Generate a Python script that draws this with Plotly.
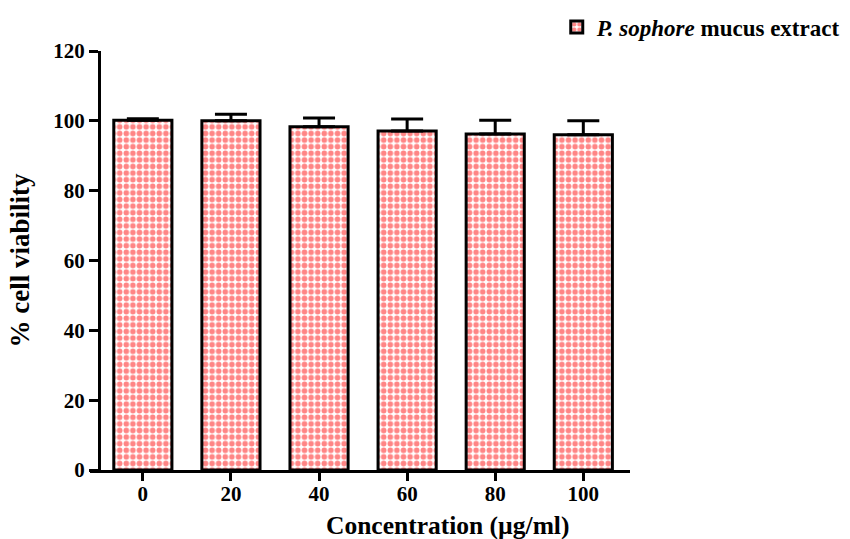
import plotly.graph_objects as go

concentrations = ["0", "20", "40", "60", "80", "100"]
viability = [100.2, 100.0, 98.3, 97.1, 96.2, 96.0]
sem = [0.4, 1.9, 2.5, 3.4, 4.0, 4.0]
series_name = "<i>P. sophore</i> mucus extract"
x_title = "Concentration (µg/ml)"
y_title = "% cell viability"
y_ticks = [0, 20, 40, 60, 80, 100, 120]

FONT = "Liberation Serif"
PINK = "#ff8585"

fig = go.Figure()
fig.add_trace(go.Bar(
    x=concentrations,
    y=viability,
    name=series_name,
    width=0.66,
    marker=dict(
        color="white",
        line=dict(color="black", width=3),
        pattern=dict(shape=".", fgcolor=PINK, bgcolor="white", size=6.6,
                     solidity=0.55, fillmode="replace"),
    ),
    error_y=dict(type="data", array=sem, arrayminus=[0] * len(sem),
                 symmetric=False, color="black", thickness=3, width=16),
    showlegend=True,
))

fig.add_annotation(
    text=x_title, xref="paper", yref="paper",
    x=(447 - 90) / 540, y=(470 - 525) / 419,
    xanchor="center", yanchor="middle", showarrow=False,
    font=dict(family=FONT, size=25.5, color="black", weight="bold"),
)

fig.update_layout(
    width=850, height=539,
    margin=dict(l=90, r=220, t=51, b=69, autoexpand=False),
    plot_bgcolor="white",
    paper_bgcolor="white",
    font=dict(family=FONT, color="black", size=20),
    showlegend=True,
    legend=dict(
        x=0.995, xanchor="right", y=1 - 27 / 539, yanchor="middle",
        xref="container", yref="container",
        font=dict(family=FONT, size=23, color="black", weight="bold"),
        bgcolor="rgba(0,0,0,0)",
    ),
    xaxis=dict(
        type="category",
        range=[-0.6, 5.53],
        showline=True, linecolor="black", linewidth=3,
        ticks="outside", ticklen=8, tickwidth=3, tickcolor="black",
        ticklabelstandoff=-5,
        tickfont=dict(family=FONT, size=21, color="black", weight="bold"),
        showgrid=False, zeroline=False,
    ),
    yaxis=dict(
        range=[0, 120],
        tickvals=y_ticks,
        anchor="free", position=9 / 540,
        showline=True, linecolor="black", linewidth=3,
        ticks="outside", ticklen=9, tickwidth=3, tickcolor="black",
        tickfont=dict(family=FONT, size=21, color="black", weight="bold"),
        showgrid=False, zeroline=False,
        title=dict(text=y_title,
                   font=dict(family=FONT, size=27, color="black", weight="bold"),
                   standoff=14),
    ),
)

fig.write_html("out.html")
